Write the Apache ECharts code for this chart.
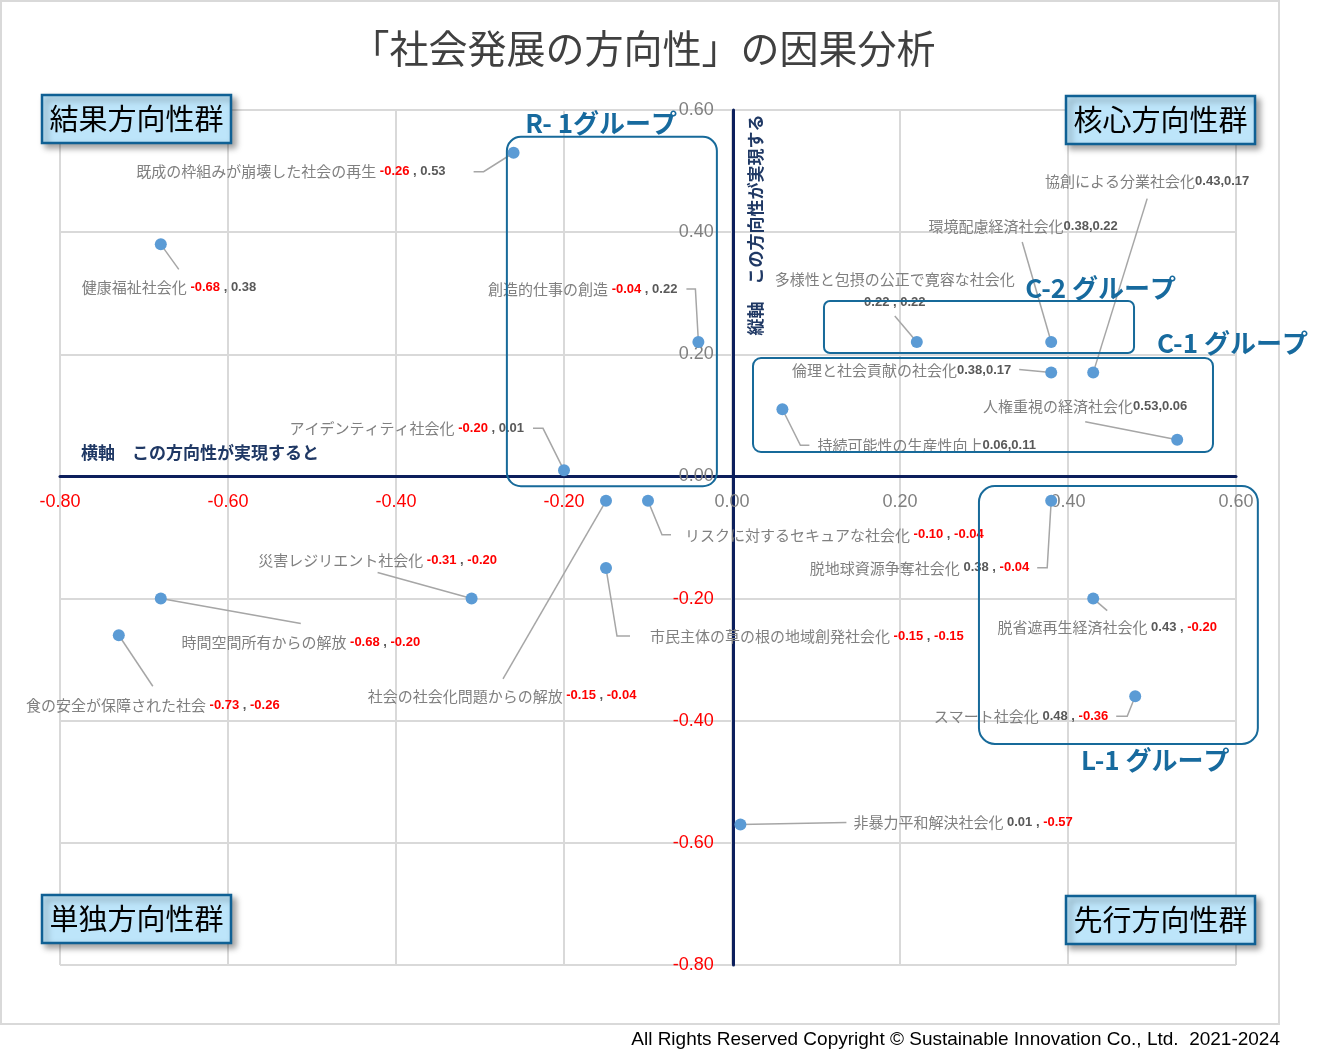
<!DOCTYPE html>
<html><head><meta charset="utf-8">
<script src="https://cdn.jsdelivr.net/npm/echarts@6/dist/echarts.min.js"></script>
<style>html,body{margin:0;padding:0;background:#fff}#c{width:1325px;height:1062px}</style>
</head><body><div id="c"></div>
<script>
// ---- data ----
const names = [
  '既成の枠組みが崩壊した社会の再生','健康福祉社会化','創造的仕事の創造','アイデンティティ社会化',
  '協創による分業社会化','環境配慮経済社会化','多様性と包摂の公正で寛容な社会化','倫理と社会貢献の社会化',
  '人権重視の経済社会化','持続可能性の生産性向上','リスクに対するセキュアな社会化','社会の社会化問題からの解放',
  '市民主体の草の根の地域創発社会化','災害レジリエント社会化','時間空間所有からの解放','食の安全が保障された社会',
  '脱地球資源争奪社会化','脱省遮再生経済社会化','スマート社会化','非暴力平和解決社会化'
];
const xValues = [-0.26,-0.68,-0.04,-0.20, 0.43,0.38,0.22,0.38, 0.53,0.06,-0.10,-0.15, -0.15,-0.31,-0.68,-0.73, 0.38,0.43,0.48,0.01];
const yValues = [ 0.53, 0.38, 0.22, 0.01, 0.17,0.22,0.22,0.17, 0.06,0.11,-0.04,-0.04, -0.15,-0.20,-0.20,-0.26, -0.04,-0.20,-0.36,-0.57];
const axisMin = -0.8, axisMax = 0.6, axisStep = 0.2;
const titleText = '「社会発展の方向性」の因果分析';
const quadrantNames = ['結果方向性群','核心方向性群','単独方向性群','先行方向性群'];
const groupNames = ['R- 1グループ','C-2 グループ','C-1 グループ','L-1 グループ'];
const xAxisTitle = '横軸　この方向性が実現すると';
const yAxisTitle = '縦軸　この方向性が実現する';
const copyright = 'All Rights Reserved Copyright © Sustainable Innovation Co., Ltd.  2021-2024';

// ---- layout (label placement relative to point, in px) ----
const labelPlacement = [
  {a:'right', d:[-68,19], l:[[-40,19],[-30,19]]},
  {a:'left', d:[-79,43], l:[[18,25]]},
  {a:'right', d:[-21,-53], l:[[-12,-53],[-3,-53]]},
  {a:'right', d:[-40,-42], l:[[-31,-42],[-21,-42]]},
  {a:'center', d:[54,-191], l:[[54,-174]], tight:true},
  {a:'center', d:[-28,-116], l:[[-29,-100]], tight:true},
  {a:'center', d:[-22,-51], l:[[-22,-26]], br:true},
  {a:'right', d:[-40,-2], l:[[-32,-3]], tight:true},
  {a:'center', d:[-92,-33], l:[[-92,-18]], tight:true},
  {a:'left', d:[35,36], l:[[27,36],[18,36]], tight:true},
  {a:'left', d:[37,34], l:[[23,34],[14,34]]},
  {a:'center', d:[-104,195], l:[[-103,178]]},
  {a:'left', d:[44,68], l:[[24,68],[11,68]]},
  {a:'center', d:[-94,-38], l:[[-94,-26]]},
  {a:'center', d:[140,44], l:[[140,25]]},
  {a:'center', d:[34,70], l:[[34,51]]},
  {a:'right', d:[-22,67], l:[[-14,67],[-4,67]]},
  {a:'center', d:[14,29], l:[[14,12]]},
  {a:'right', d:[-27,20], l:[[-19,20],[-8,20]]},
  {a:'left', d:[113,-2], l:[[106,-2]]}
];
// group boxes in data coords [x0, yTop, x1, yBottom], label anchor [x, y]
const groupBoxes = [
  {b:[-0.268,0.556,-0.018,-0.016], r:14, t:[-0.246,0.579]},
  {b:[0.1095,0.2872,0.4786,0.2021], r:6, t:[0.349,0.309]},
  {b:[0.025,0.1939,0.5726,0.040], r:8, t:[0.506,0.218]},
  {b:[0.294,-0.0157,0.626,-0.438], r:16, t:[0.4155,-0.464]}
];
const quadrantPos = [[42,95],[1066,96],[42,895],[1066,896]];

const JP = "'Noto Sans CJK JP', 'Noto Sans', sans-serif";
const NUM = "'Liberation Sans', Arial, sans-serif";
const fmt = v => v.toFixed(2);
const rich = {
  n:{fontSize:15, fontFamily:JP, fill:'#808080', lineHeight:23},
  s:{fontSize:13, fontFamily:NUM, fill:'#595959', lineHeight:23},
  g:{fontSize:13, fontFamily:NUM, fill:'#595959', fontWeight:'bold', lineHeight:23},
  r:{fontSize:13, fontFamily:NUM, fill:'#ff0000', fontWeight:'bold', lineHeight:23}
};

const chart = echarts.init(document.getElementById('c'));
const pts = xValues.map((x,i)=>[x, yValues[i]]);
const labelColor = v => (parseFloat(v) < 0 ? '#ff0000' : '#808080');
const GRID = {left:60, right:89, top:110, bottom:97};

const option = {
  animation:false,
  backgroundColor:'#ffffff',
  grid:Object.assign({containLabel:false}, GRID),
  xAxis:{type:'value', min:axisMin, max:axisMax, interval:axisStep, position:'bottom', offset:0,
    axisLine:{onZero:false, lineStyle:{color:'#0c1f5c', width:3}},
    axisTick:{show:false},
    axisLabel:{margin:17, fontSize:18, fontFamily:NUM, color:labelColor, formatter:v=>fmt(v)},
    splitLine:{lineStyle:{color:'#d9d9d9', width:2}}},
  yAxis:{type:'value', min:axisMin, max:axisMax, interval:axisStep, position:'left', offset:0,
    axisLine:{onZero:false, lineStyle:{color:'#0c1f5c', width:3}},
    axisTick:{show:false},
    axisLabel:{margin:20, fontSize:18, fontFamily:NUM, color:labelColor, formatter:v=>fmt(v)},
    splitLine:{lineStyle:{color:'#d9d9d9', width:2}}},
  series:[
    {type:'custom', silent:true, z:3, data:pts, encode:{x:0,y:1},
      renderItem:function(params, api){
        const i = params.dataIndex;
        const p = api.coord([api.value(0), api.value(1)]);
        const L = labelPlacement[i];
        const line = L.l.map(o=>[p[0]+o[0], p[1]+o[1]]).concat([p]);
        const xv = xValues[i], yv = yValues[i];
        const sep = L.br ? '\n' : (L.tight ? '' : '{s| }');
        const txt = '{n|'+names[i]+'}'+sep+'{'+(xv<0?'r':'g')+'|'+fmt(xv)+'}{g|'+(L.tight?',':' , ')+'}{'+(yv<0?'r':'g')+'|'+fmt(yv)+'}';
        return {type:'group', children:[
          {type:'polyline', shape:{points:line}, style:{stroke:'#a6a6a6', lineWidth:1.5, fill:'none'}},
          {type:'text', x:p[0]+L.d[0], y:p[1]+L.d[1], style:{text:txt, rich:rich, align:L.a, verticalAlign:'middle'}}
        ]};
      }},
    {type:'scatter', z:4, data:pts, symbolSize:12, itemStyle:{color:'#5b9bd5', opacity:1}}
  ]
};
chart.setOption(option);

const toPx = (x,y) => chart.convertToPixel({gridIndex:0}, [x,y]);
const zero = toPx(0,0);
const H = chart.getHeight();
chart.setOption({
  xAxis:{offset: -((H - GRID.bottom) - zero[1])},
  yAxis:{offset: -(zero[0] - GRID.left)}
});

const graphics = [];
graphics.push({type:'rect', z:-1, shape:{x:1, y:1, width:1278, height:1023}, style:{fill:'none', stroke:'#d9d9d9', lineWidth:2}});
graphics.push({type:'text', x:643, y:48, style:{text:titleText, fontSize:39, fontFamily:JP, fill:'#404040', align:'center', verticalAlign:'middle'}});
graphics.push({type:'text', x:1280, y:1040, style:{text:copyright, fontSize:19, fontFamily:NUM, fill:'#000000', align:'right', verticalAlign:'middle'}});
graphics.push({type:'text', z:10, x:81, y:453, style:{text:xAxisTitle, fontSize:17, fontWeight:'bold', fontFamily:JP, fill:'#1f3864', align:'left', verticalAlign:'middle'}});
graphics.push({type:'text', z:10, x:756, y:225, rotation:Math.PI/2, style:{text:yAxisTitle, fontSize:17, fontWeight:'bold', fontFamily:JP, fill:'#1f3864', align:'center', verticalAlign:'middle'}});
groupBoxes.forEach((g,i)=>{
  const a = toPx(g.b[0], g.b[1]), b = toPx(g.b[2], g.b[3]);
  graphics.push({type:'rect', z:5, shape:{x:a[0], y:a[1], width:b[0]-a[0], height:b[1]-a[1], r:g.r},
    style:{fill:'none', stroke:'#176a9a', lineWidth:2}});
  const t = toPx(g.t[0], g.t[1]);
  graphics.push({type:'text', z:6, x:t[0], y:t[1], style:{text:groupNames[i], fontSize:26, fontWeight:'bold', fontFamily:JP, fill:'#176a9e', align:'left', verticalAlign:'middle'}});
});
quadrantNames.forEach((q,i)=>{
  const p = quadrantPos[i];
  graphics.push({type:'rect', z:20, shape:{x:p[0], y:p[1], width:189, height:48},
    style:{fill:'#bde5fa', stroke:'#0f6094', lineWidth:2.5, shadowBlur:6, shadowOffsetX:4, shadowOffsetY:4, shadowColor:'rgba(0,0,0,0.35)'}});
  graphics.push({type:'text', z:21, x:p[0]+94.5, y:p[1]+24, style:{text:q, fontSize:29, fontFamily:JP, fill:'#000000', align:'center', verticalAlign:'middle'}});
});
chart.setOption({graphic:graphics});
</script></body></html>
